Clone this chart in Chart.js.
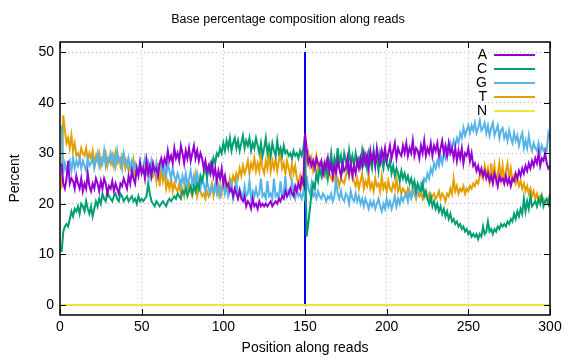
<!DOCTYPE html>
<html>
<head>
<meta charset="utf-8">
<script src="https://cdn.jsdelivr.net/npm/chart.js@4"></script>
<style>
  html, body { margin: 0; padding: 0; background: #fff; }
  #wrap { width: 576px; height: 360px; }
</style>
</head>
<body>
<div id="wrap"><canvas id="baseComp" width="576" height="360"></canvas></div>
<script>
// DATA
const chartTitle = "Base percentage composition along reads";
const bases = ["A", "C", "G", "T", "N"];
const baseColors = ["#9400d3", "#009e73", "#56b4e9", "#e69f00", "#f0e442"];
const xTicks = [0, 50, 100, 150, 200, 250, 300];
const yTicks = [0, 10, 20, 30, 40, 50];
const markerPos = 150;
const markerRange = [0, 50];

const aPct = [
  28, 24, 23, 25, 28.5, 24, 25, 24.5, 23, 25.5,
  24, 23, 25, 22.5, 24, 23, 26, 23.5, 22.5, 24,
  23, 25, 24, 22.5, 24.5, 23, 25, 24, 22, 23.5,
  23, 24.5, 22.5, 24, 23, 22, 24, 23.5, 25, 24,
  23, 25.5, 24, 26.5, 25, 24, 27, 25.5, 28, 26,
  27, 25, 28.5, 26, 27.5, 25.5, 28, 26.5, 27, 25.5,
  28, 29, 27.5, 29, 28, 30.5, 28.5, 29.5, 28, 31,
  29, 30, 28.5, 31.5, 30, 28, 30.5, 29, 31, 28.5,
  30, 31.5, 29, 30.5, 28.5, 30, 29, 27, 28.5, 26.5,
  27.5, 26, 28, 25.5, 27, 24.5, 26.5, 25, 27, 24,
  25.5, 23.5, 24, 22.5, 23, 21.5, 23, 22, 21, 22.5,
  21, 20.5, 21.5, 19.5, 20.5, 20, 19, 21, 19.5, 20,
  19, 20.5, 19.5, 20, 19.5, 20, 19.5, 20, 20.5, 19.5,
  20, 20.5, 20, 21, 20.5, 21.5, 21, 22.5, 21.5, 22,
  23, 22, 21.5, 23.5, 22.5, 24, 23, 25, 24, 34,
  31, 28, 29, 27.5, 28.5, 27, 29, 28, 27.5, 28.5,
  26, 28, 27, 29, 26.5, 28, 25.5, 27.5, 26, 28.5,
  27, 25.5, 28, 26.5, 27, 29, 26, 28, 25.5, 27.5,
  26, 28.5, 27, 29, 27.5, 30, 28, 29.5, 27, 30.5,
  28.5, 30, 27.5, 31, 29, 28, 30.5, 29, 31, 28.5,
  30, 31.5, 29, 30.5, 32, 29, 31, 30, 29.5, 31.5,
  30, 32, 29.5, 31, 30, 32.5, 29.5, 31, 30.5, 29,
  31.5, 30, 32.5, 29.5, 31, 30, 32, 29.5, 31.5, 30.5,
  32, 29.5, 31, 32.5, 30, 31.5, 29.5, 32, 30, 31,
  29, 31, 28.5, 30.5, 29, 31, 28, 30, 29.5, 31,
  28.5, 30, 27.5, 28, 26.5, 27.5, 26, 27, 25.5, 26.5,
  25, 26, 24.5, 25.5, 24, 26, 25, 23.5, 25.5, 24.5,
  25, 24, 25.5, 24, 25, 23.5, 25, 24.5, 26, 25,
  26.5, 25.5, 27, 26, 27.5, 26.5, 28, 27, 28.5, 27.5,
  29, 28, 30, 27.5, 29, 28.5, 30, 28, 27, 27.5
];

const cPct = [
  10.5, 14.5, 15.5, 16, 15.5, 17, 18.5, 17.5, 19, 18.5,
  19.5, 18, 20, 19.5, 18.5, 20.5, 19, 18, 19.5, 17.5,
  19, 20.5, 19.5, 21, 20, 22, 21, 20.5, 22.5, 21.5,
  21, 20.5, 21.5, 22, 21, 20.5, 22, 21.5, 20.5, 21,
  21.5, 20.5, 21, 21.5, 20.5, 21, 20, 21.5, 20.5, 21,
  20.5, 21, 21.5, 24, 22, 20.5, 20, 19.5, 20.5, 20,
  19.5, 20, 20.5, 20, 19.5, 20.5, 21, 20.5, 21, 21.5,
  21, 22, 21.5, 21, 22.5, 22, 23, 21.5, 22.5, 23.5,
  22, 23.5, 22.5, 24, 23, 25.5, 24.5, 26, 27.5, 25,
  27, 28, 26.5, 29, 28, 30, 29.5, 31, 30, 32,
  30.5, 32.5, 31, 33, 30.5, 32, 33, 31, 32.5, 30.5,
  32, 33.5, 31, 32.5, 31.5, 33, 30.5, 32, 31, 33,
  31.5, 30, 32, 29.5, 31, 33, 30, 31.5, 29.5, 32,
  30.5, 29.5, 32.5, 30, 31, 29.5, 31.5, 30, 30.5, 29.5,
  30, 29, 30.5, 29.5, 30, 29, 30.5, 29.5, 31, 33.5,
  13.5, 16, 19, 22, 24, 23, 26, 24.5, 27, 25.5,
  27.5, 26, 28, 25, 27.5, 30, 26.5, 29, 27.5, 31,
  28, 29.5, 27, 30, 28.5, 27, 30.5, 28, 29.5, 27.5,
  30, 28, 29, 27.5, 30.5, 28, 29.5, 27, 30, 28.5,
  27, 30.5, 28, 29, 26.5, 30, 28.5, 27, 29.5, 28,
  27, 28.5, 26, 27.5, 25.5, 27, 26, 24.5, 26.5, 25,
  26, 24.5, 25.5, 24, 25, 23.5, 24.5, 22.5, 24, 23,
  22.5, 24, 21.5, 22.5, 21, 20, 21.5, 19.5, 20.5, 19,
  20, 18.5, 19.5, 18, 19, 17.5, 18.5, 17, 18, 16.5,
  17, 16, 16.5, 15.5, 16, 15, 15.5, 14.5, 15, 14,
  14.5, 13.5, 14, 13.5, 14, 13, 14, 13.5, 15.5, 14,
  14.5, 16.5, 14.5, 15, 14, 15, 14.5, 15.5, 15, 16,
  15.5, 16, 15.5, 16.5, 16, 17, 16.5, 18, 17, 18.5,
  17.5, 19, 18, 21, 18.5, 20.5, 19, 21.5, 19.5, 20,
  20.5, 19.5, 21, 20, 21.5, 19.5, 20.5, 21, 20, 22
];

const gPct = [
  35.5, 26, 28, 26.5, 27.5, 28.5, 26.5, 29, 27, 28.5,
  27.5, 29, 27, 28.5, 27.5, 26.5, 29, 27.5, 28, 29,
  27, 28.5, 30, 27.5, 29, 28, 30.5, 27.5, 29, 28.5,
  30, 28, 29.5, 27.5, 30.5, 28.5, 29, 27, 30, 28.5,
  27.5, 29, 27, 28.5, 26.5, 28, 27, 26, 28.5, 26.5,
  27.5, 29, 26.5, 28, 25.5, 28.5, 27, 26, 28, 25.5,
  27, 28.5, 26, 27.5, 25.5, 28, 26.5, 25, 27, 25.5,
  24.5, 26, 25, 23.5, 25.5, 24, 26, 23.5, 25, 26.5,
  24, 25.5, 23, 26, 24.5, 23, 25, 24, 22.5, 24.5,
  23, 22, 23.5, 22.5, 24, 22, 23.5, 21.5, 23, 24,
  22, 23.5, 21.5, 22.5, 24, 21, 22.5, 24.5, 21.5, 23,
  22, 21, 23.5, 21.5, 22, 24.5, 21, 22.5, 21.5, 23,
  21.5, 22, 25, 21.5, 22, 21, 24.5, 21.5, 22, 21,
  25, 21.5, 22, 21, 24.5, 21.5, 22, 25.5, 21.5, 22.5,
  21.5, 24.5, 22, 21, 23, 21.5, 22, 21, 22.5, 21,
  25.5, 23, 22, 24, 21.5, 22, 21, 22.5, 21.5, 21,
  22, 21.5, 20.5, 21.5, 21, 22, 20.5, 21.5, 25, 22,
  21, 22.5, 21, 20.5, 22, 21.5, 20, 22.5, 21, 20.5,
  22, 20.5, 21.5, 20, 21, 19.5, 21, 20, 19, 20.5,
  19.5, 20.5, 19, 20, 21, 19.5, 18.5, 20, 19, 21,
  19.5, 20.5, 19, 20, 21.5, 19.5, 21, 20, 21.5, 20.5,
  21.5, 22, 20.5, 22.5, 21, 22, 23, 21.5, 23.5, 22.5,
  24, 23, 25, 24.5, 26, 25, 27, 26, 28, 27,
  28.5, 27.5, 29.5, 28, 30, 29, 31, 30, 32, 31,
  32.5, 31.5, 33, 32, 34, 33, 35, 33.5, 34.5, 35.5,
  34, 35.5, 34.5, 36, 34, 35, 36.5, 34.5, 35, 36,
  34, 35.5, 33.5, 35, 36, 33.5, 34.5, 35.5, 33, 34.5,
  35, 33, 34, 32.5, 34.5, 33, 32, 34, 32.5, 33.5,
  31.5, 33, 34, 31, 32.5, 31, 33.5, 31.5, 30.5, 32,
  31, 30.5, 32, 30, 31.5, 30.5, 31, 30.5, 34, 33
];

const tPct = [
  23, 37.5, 34.5, 32, 33, 31, 33.5, 30.5, 32, 29.5,
  30, 29, 31, 30, 29.5, 31, 28.5, 30, 29, 30.5,
  28, 29.5, 28.5, 30, 27.5, 29, 28.5, 30, 27.5, 29,
  28, 29.5, 27.5, 30, 28, 29, 27.5, 29.5, 28.5, 27,
  28.5, 26.5, 27.5, 26, 28.5, 25.5, 27, 26.5, 28, 26.5,
  27.5, 26, 28.5, 25.5, 26, 25, 25.5, 26.5, 24.5, 28,
  23.5, 27, 24.5, 26, 23, 24.5, 23, 25, 22.5, 24,
  23, 22.5, 24, 22, 23, 21.5, 23.5, 22, 24, 22.5,
  21.5, 23, 25.5, 21.5, 23, 22.5, 21.5, 22, 21, 22.5,
  21.5, 22.5, 24, 21.5, 23, 25, 22, 23.5, 22, 24.5,
  22.5, 24, 23, 25, 23.5, 25.5, 24.5, 26, 25, 27,
  25.5, 27.5, 26, 27, 28.5, 26, 28, 27, 29, 26.5,
  28, 26.5, 29.5, 27, 26, 28.5, 27, 30, 26.5, 28.5,
  27, 29, 26.5, 28.5, 30, 27, 28, 26, 28.5, 27,
  25.5, 28, 26, 27.5, 25, 24, 25.5, 23.5, 25, 30,
  28.5, 30, 27.5, 29, 26.5, 28, 29.5, 26.5, 28, 27.5,
  26, 28, 25.5, 27, 26, 25, 24.5, 25.5, 24, 25,
  23.5, 25, 24.5, 24, 25.5, 27, 25.5, 28, 26, 24.5,
  23.5, 25, 23, 24.5, 26, 23, 24.5, 23.5, 25.5, 23,
  24, 22.5, 25, 23.5, 24, 22.5, 25.5, 23, 24, 22.5,
  24.5, 23, 22.5, 24, 23, 25, 22.5, 23.5, 22, 23,
  22.5, 21.5, 23, 22, 21.5, 23.5, 22, 21, 22.5, 21.5,
  22, 21, 22.5, 21.5, 21, 22, 20.5, 21.5, 22, 21,
  21.5, 22.5, 21, 22, 21.5, 20.5, 22, 21.5, 23, 22,
  25, 22.5, 23.5, 22, 23, 22.5, 23.5, 22, 23, 22.5,
  23.5, 23, 24, 23.5, 24.5, 24, 25.5, 26, 25, 27.5,
  25.5, 27, 24.5, 28, 25, 27.5, 24.5, 26, 28, 25,
  27.5, 24.5, 26.5, 28, 25, 27, 24.5, 25.5, 24, 25,
  23.5, 24.5, 23, 24, 22.5, 23.5, 22, 23, 21.5, 22.5,
  21, 22, 20.5, 21.5, 20.5, 21, 20, 20.5, 20, 20.5
];

const nPct = [
  0, 0, 0, 0, 0, 0, 0, 0, 0, 0,
  0, 0, 0, 0, 0, 0, 0, 0, 0, 0,
  0, 0, 0, 0, 0, 0, 0, 0, 0, 0,
  0, 0, 0, 0, 0, 0, 0, 0, 0, 0,
  0, 0, 0, 0, 0, 0, 0, 0, 0, 0,
  0, 0, 0, 0, 0, 0, 0, 0, 0, 0,
  0, 0, 0, 0, 0, 0, 0, 0, 0, 0,
  0, 0, 0, 0, 0, 0, 0, 0, 0, 0,
  0, 0, 0, 0, 0, 0, 0, 0, 0, 0,
  0, 0, 0, 0, 0, 0, 0, 0, 0, 0,
  0, 0, 0, 0, 0, 0, 0, 0, 0, 0,
  0, 0, 0, 0, 0, 0, 0, 0, 0, 0,
  0, 0, 0, 0, 0, 0, 0, 0, 0, 0,
  0, 0, 0, 0, 0, 0, 0, 0, 0, 0,
  0, 0, 0, 0, 0, 0, 0, 0, 0, 0,
  0, 0, 0, 0, 0, 0, 0, 0, 0, 0,
  0, 0, 0, 0, 0, 0, 0, 0, 0, 0,
  0, 0, 0, 0, 0, 0, 0, 0, 0, 0,
  0, 0, 0, 0, 0, 0, 0, 0, 0, 0,
  0, 0, 0, 0, 0, 0, 0, 0, 0, 0,
  0, 0, 0, 0, 0, 0, 0, 0, 0, 0,
  0, 0, 0, 0, 0, 0, 0, 0, 0, 0,
  0, 0, 0, 0, 0, 0, 0, 0, 0, 0,
  0, 0, 0, 0, 0, 0, 0, 0, 0, 0,
  0, 0, 0, 0, 0, 0, 0, 0, 0, 0,
  0, 0, 0, 0, 0, 0, 0, 0, 0, 0,
  0, 0, 0, 0, 0, 0, 0, 0, 0, 0,
  0, 0, 0, 0, 0, 0, 0, 0, 0, 0,
  0, 0, 0, 0, 0, 0, 0, 0, 0, 0,
  0, 0, 0, 0, 0, 0, 0, 0, 0, 0
];

// GLOBALS
Chart.defaults.font.family = "'Liberation Sans', Arial, sans-serif";
Chart.defaults.font.size = 14;
Chart.defaults.color = "#000";

function toPoints(arr) {
  return arr.map((v, i) => ({ x: i + 1, y: v }));
}

// title centred on the page, frame, inward ticks, gnuplot-style key
const gnuFrame = {
  id: "gnuFrame",
  afterDraw(chart) {
    const { ctx, chartArea: a, scales } = chart;
    ctx.save();
    ctx.fillStyle = "#000";
    ctx.font = "12.5px 'Liberation Sans', Arial, sans-serif";
    ctx.textAlign = "center";
    ctx.textBaseline = "middle";
    ctx.fillText(chartTitle, chart.width / 2, 20);

    ctx.strokeStyle = "#000";
    ctx.lineWidth = 1;
    ctx.beginPath();
    xTicks.forEach(t => {
      const px = Math.round(scales.x.getPixelForValue(t)) + 0.5;
      ctx.moveTo(px, a.bottom); ctx.lineTo(px, a.bottom - 6);
      ctx.moveTo(px, a.top); ctx.lineTo(px, a.top + 6);
    });
    yTicks.forEach(t => {
      const py = Math.round(scales.y.getPixelForValue(t)) + 0.5;
      ctx.moveTo(a.left, py); ctx.lineTo(a.left + 6, py);
      ctx.moveTo(a.right, py); ctx.lineTo(a.right - 6, py);
    });
    ctx.stroke();
    ctx.lineWidth = 1.5;
    ctx.strokeRect(a.left, a.top, a.right - a.left, a.bottom - a.top);

    // key
    ctx.font = "14px 'Liberation Sans', Arial, sans-serif";
    ctx.textAlign = "right";
    bases.forEach((b, i) => {
      const y = 55 + i * 14;
      ctx.fillStyle = "#000";
      ctx.fillText(b, 487, y);
      ctx.strokeStyle = baseColors[i];
      ctx.lineWidth = 2;
      ctx.beginPath();
      ctx.moveTo(494, y);
      ctx.lineTo(535, y);
      ctx.stroke();
    });
    ctx.restore();
  },
};

const seriesArrs = [aPct, cPct, gPct, tPct, nPct];
const datasets = bases.map((b, i) => ({
  label: b,
  data: toPoints(seriesArrs[i]),
  borderColor: baseColors[i],
  borderWidth: 2,
  pointRadius: 0,
  tension: 0,
}));
datasets.push({
  label: "",
  data: markerRange.map(v => ({ x: markerPos, y: v })),
  borderColor: "#0000ff",
  borderWidth: 2,
  pointRadius: 0,
});

let baseCompctx = document.getElementById("baseComp").getContext("2d");
new Chart(baseCompctx, {
  type: "line",
  data: { datasets: datasets },
  options: {
    responsive: false,
    animation: false,
    layout: { padding: { left: 0, right: 26, top: 42, bottom: 0 } },
    plugins: {
      legend: { display: false },
      tooltip: { enabled: false },
      title: { display: false },
    },
    scales: {
      x: {
        type: "linear",
        min: 0,
        max: 300,
        afterBuildTicks: s => { s.ticks = xTicks.map(v => ({ value: v })); },
        afterFit: s => { s.height = 45; },
        ticks: { padding: 4, maxRotation: 0, autoSkip: false },
        grid: { color: "#bbbbbb", lineWidth: 1, drawTicks: false },
        border: { display: false, dash: [1, 3] },
        title: {
          display: true,
          text: "Position along reads",
          padding: { top: 0, bottom: 3 },
        },
      },
      y: {
        type: "linear",
        min: -2,
        max: 52,
        afterBuildTicks: s => { s.ticks = yTicks.map(v => ({ value: v })); },
        afterFit: s => { s.width = 60; },
        ticks: { padding: 6 },
        grid: { color: "#bbbbbb", lineWidth: 1, drawTicks: false },
        border: { display: false, dash: [1, 3] },
        title: {
          display: true,
          text: "Percent",
          padding: { top: 7, bottom: 0 },
        },
      },
    },
  },
  plugins: [gnuFrame],
});
</script>
</body>
</html>
